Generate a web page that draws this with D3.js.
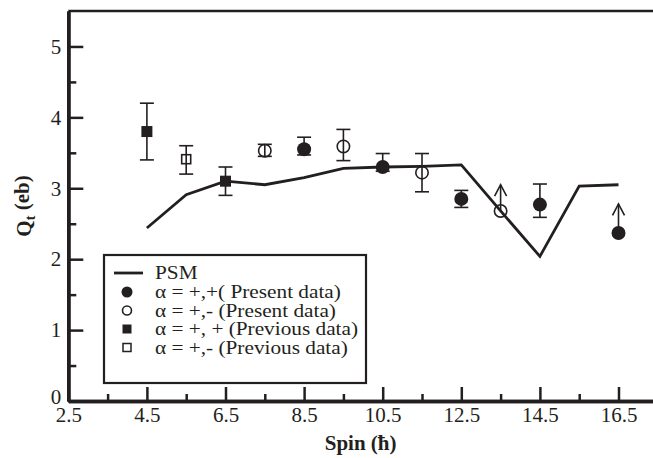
<!DOCTYPE html>
<html>
<head>
<meta charset="utf-8">
<script src="https://cdn.jsdelivr.net/npm/d3@7"></script>
<style>
  body { margin: 0; background: #fff; }
  svg { display: block; font-family: "Liberation Serif", "Times New Roman", serif; }
</style>
</head>
<body>
<svg id="chart"></svg>
<script>
var width = 653;
var height = 458;

// PSM calculation (solid line)
var psmSpin = [4.5, 5.5, 6.5, 7.5, 8.5, 9.5, 10.5, 11.5, 12.5, 13.5, 14.5, 15.5, 16.5];
var psmQ    = [2.44, 2.91, 3.10, 3.05, 3.15, 3.28, 3.30, 3.31, 3.33, 2.68, 2.04, 3.03, 3.05];

// alpha = +,+ present data (filled circles)
var presPlusSpin = [8.5, 10.5, 12.5, 14.5, 16.5];
var presPlusQ    = [3.55, 3.30, 2.85, 2.77, 2.37];
var presPlusLo   = [3.47, 3.24, 2.73, 2.59, null];
var presPlusHi   = [3.72, 3.49, 2.97, 3.06, null];
var presPlusArrow = [null, null, null, null, 2.78];

// alpha = +,- present data (open circles)
var presMinusSpin = [7.5, 9.5, 11.5, 13.5];
var presMinusQ    = [3.53, 3.59, 3.22, 2.68];
var presMinusLo   = [3.45, 3.39, 2.95, null];
var presMinusHi   = [3.62, 3.83, 3.49, null];
var presMinusArrow = [null, null, null, 3.05];

// alpha = +,+ previous data (filled squares)
var prevPlusSpin = [4.5, 6.5];
var prevPlusQ    = [3.80, 3.10];
var prevPlusLo   = [3.40, 2.90];
var prevPlusHi   = [4.20, 3.30];

// alpha = +,- previous data (open squares)
var prevMinusSpin = [5.5];
var prevMinusQ    = [3.41];
var prevMinusLo   = [3.20];
var prevMinusHi   = [3.60];

var xMajor = [2.5, 4.5, 6.5, 8.5, 10.5, 12.5, 14.5, 16.5];
var xMinor = [3.5, 5.5, 7.5, 9.5, 11.5, 13.5, 15.5];
var yMajor = [0, 1, 2, 3, 4, 5];
var yMinor = [0.5, 1.5, 2.5, 3.5, 4.5];

var legendLabels = [
  "PSM",
  "\u03b1 = +,+( Present data)",
  "\u03b1 = +,- (Present data)",
  "\u03b1 = +, + (Previous data)",
  "\u03b1 = +,- (Previous data)"
];

function rows(spin, q, lo, hi, arrow) {
  return spin.map(function(s, i) {
    return { spin: s, q: q[i],
             lo: lo ? lo[i] : null, hi: hi ? hi[i] : null,
             arrow: arrow ? arrow[i] : null };
  });
}

var presPlus = rows(presPlusSpin, presPlusQ, presPlusLo, presPlusHi, presPlusArrow);
var presMinus = rows(presMinusSpin, presMinusQ, presMinusLo, presMinusHi, presMinusArrow);
var prevPlus = rows(prevPlusSpin, prevPlusQ, prevPlusLo, prevPlusHi, null);
var prevMinus = rows(prevMinusSpin, prevMinusQ, prevMinusLo, prevMinusHi, null);

var plotLeft = 68.3, plotBottom = 401, plotTop = 11;
var ink = "#231f20";

var xScale = d3.scaleLinear().domain([2.5, 17.5]).range([plotLeft, plotLeft + 15 * 39.3]);
var yScale = d3.scaleLinear().domain([0, 5.5]).range([plotBottom, plotTop]);

var svg = d3.select("#chart")
    .attr("width", width)
    .attr("height", height);

// top frame line
svg.append("line")
    .attr("x1", plotLeft).attr("x2", width)
    .attr("y1", plotTop).attr("y2", plotTop)
    .attr("stroke", ink)
    .attr("stroke-width", 2.5);

// axes (ticks pointing inward)
var xAxis = d3.axisBottom(xScale).tickValues(xMajor)
    .tickFormat(d3.format(".1f"))
    .tickSizeInner(-14).tickSizeOuter(0).tickPadding(6);
var xAxisMinor = d3.axisBottom(xScale).tickValues(xMinor)
    .tickFormat("").tickSizeInner(-7).tickSizeOuter(0);
var yAxis = d3.axisLeft(yScale).tickValues(yMajor)
    .tickFormat(d3.format("d"))
    .tickSizeInner(-15).tickSizeOuter(0).tickPadding(7);
var yAxisMinor = d3.axisLeft(yScale).tickValues(yMinor)
    .tickFormat("").tickSizeInner(-8).tickSizeOuter(0);

function styleAxis(g) {
  g.selectAll("path").attr("stroke", ink).attr("stroke-width", 3.5);
  g.selectAll("line").attr("stroke", ink).attr("stroke-width", 2.5);
  g.selectAll("text").attr("fill", ink).style("font-size", "21px")
      .style("font-family", "'Liberation Serif', serif");
}

svg.append("g").attr("transform", "translate(0," + plotBottom + ")").call(xAxisMinor).call(styleAxis);
svg.append("g").attr("transform", "translate(" + plotLeft + ",0)").call(yAxisMinor).call(styleAxis);
svg.append("g").attr("transform", "translate(0," + plotBottom + ")").call(xAxis).call(styleAxis);
svg.append("g").attr("transform", "translate(" + plotLeft + ",0)").call(yAxis).call(styleAxis)
  .selectAll(".tick text")
    .filter(function(d) { return d === 0; })
    .attr("dy", "0.1em"); // "0" sits a little above the corner

// PSM line
var line = d3.line().x(function(d) { return xScale(d[0]); }).y(function(d) { return yScale(d[1]); });
svg.append("path")
    .datum(d3.zip(psmSpin, psmQ))
    .attr("d", line)
    .attr("fill", "none")
    .attr("stroke", ink)
    .attr("stroke-width", 2.8)
    .attr("stroke-linejoin", "miter");

// error bars
function errorBars(data) {
  var g = svg.append("g").attr("stroke", ink).attr("stroke-width", 1.6);
  var withErr = data.filter(function(d) { return d.lo !== null; });
  g.selectAll("line.v").data(withErr).enter().append("line")
      .attr("x1", function(d) { return xScale(d.spin); })
      .attr("x2", function(d) { return xScale(d.spin); })
      .attr("y1", function(d) { return yScale(d.lo); })
      .attr("y2", function(d) { return yScale(d.hi); });
  ["lo", "hi"].forEach(function(k) {
    g.selectAll("line.c" + k).data(withErr).enter().append("line")
        .attr("x1", function(d) { return xScale(d.spin) - 7; })
        .attr("x2", function(d) { return xScale(d.spin) + 7; })
        .attr("y1", function(d) { return yScale(d[k]); })
        .attr("y2", function(d) { return yScale(d[k]); });
  });
  // lower limits drawn as arrows
  var withArrow = data.filter(function(d) { return d.arrow !== null; });
  g.selectAll("line.a").data(withArrow).enter().append("line")
      .attr("x1", function(d) { return xScale(d.spin); })
      .attr("x2", function(d) { return xScale(d.spin); })
      .attr("y1", function(d) { return yScale(d.q); })
      .attr("y2", function(d) { return yScale(d.arrow); });
  g.selectAll("path.a").data(withArrow).enter().append("path")
      .attr("fill", "none")
      .attr("d", function(d) {
        var x = xScale(d.spin), y = yScale(d.arrow);
        return "M" + (x - 6) + "," + (y + 11.5) + "L" + x + "," + y + "L" + (x + 6) + "," + (y + 11.5);
      });
}
errorBars(presPlus);
errorBars(presMinus);
errorBars(prevPlus);
errorBars(prevMinus);

// markers
svg.selectAll("circle.filled").data(presPlus).enter().append("circle")
    .attr("cx", function(d) { return xScale(d.spin); })
    .attr("cy", function(d) { return yScale(d.q); })
    .attr("r", 7)
    .attr("fill", ink);

svg.selectAll("circle.open").data(presMinus).enter().append("circle")
    .attr("cx", function(d) { return xScale(d.spin); })
    .attr("cy", function(d) { return yScale(d.q); })
    .attr("r", 6.2)
    .attr("fill", "none")
    .attr("stroke", ink)
    .attr("stroke-width", 1.6);

svg.selectAll("rect.filled").data(prevPlus).enter().append("rect")
    .attr("x", function(d) { return xScale(d.spin) - 5.5; })
    .attr("y", function(d) { return yScale(d.q) - 5.5; })
    .attr("width", 11).attr("height", 11)
    .attr("fill", ink);

svg.selectAll("rect.open").data(prevMinus).enter().append("rect")
    .attr("x", function(d) { return xScale(d.spin) - 4.5; })
    .attr("y", function(d) { return yScale(d.q) - 4.5; })
    .attr("width", 9).attr("height", 9)
    .attr("fill", "none")
    .attr("stroke", ink)
    .attr("stroke-width", 1.6);

// legend
var legend = svg.append("g");
legend.append("rect")
    .attr("x", 104).attr("y", 255)
    .attr("width", 262).attr("height", 128)
    .attr("fill", "#fff")
    .attr("stroke", ink)
    .attr("stroke-width", 2.2);

var rowY = [273, 292, 310.5, 329, 347.5];
var symX = 127;
legend.append("line")
    .attr("x1", 114).attr("x2", 143)
    .attr("y1", rowY[0]).attr("y2", rowY[0])
    .attr("stroke", ink).attr("stroke-width", 2.8);
legend.append("circle").attr("cx", symX).attr("cy", rowY[1]).attr("r", 5.5).attr("fill", ink);
legend.append("circle").attr("cx", symX).attr("cy", rowY[2]).attr("r", 4.5)
    .attr("fill", "none").attr("stroke", ink).attr("stroke-width", 1.6);
legend.append("rect").attr("x", symX - 4.5).attr("y", rowY[3] - 4.5).attr("width", 9).attr("height", 9)
    .attr("fill", ink);
legend.append("rect").attr("x", symX - 4).attr("y", rowY[4] - 4).attr("width", 8).attr("height", 8)
    .attr("fill", "none").attr("stroke", ink).attr("stroke-width", 1.5);

// legend text: slightly widened glyphs, as in the original figure
legend.selectAll("text").data(legendLabels).enter().append("text")
    .attr("transform", function(d, i) { return "translate(155," + rowY[i] + ") scale(1.12,1)"; })
    .attr("dy", "0.33em")
    .attr("fill", ink)
    .style("font-size", "19px")
    .text(function(d) { return d; });

// axis titles
svg.append("text")
    .attr("x", (plotLeft + width) / 2)
    .attr("y", 450)
    .style("text-anchor", "middle")
    .style("font-weight", "bold")
    .style("font-size", "21px")
    .attr("fill", ink)
    .text("Spin (\u0127)");

var yTitle = svg.append("text")
    .attr("transform", "translate(31," + (plotBottom + plotTop) / 2 + ") rotate(-90)")
    .style("text-anchor", "middle")
    .style("font-weight", "bold")
    .style("font-size", "21px")
    .attr("fill", ink);
yTitle.append("tspan").text("Q");
yTitle.append("tspan").attr("dy", "0.25em").style("font-size", "14px").text("t");
yTitle.append("tspan").attr("dy", "-0.25em").text(" (eb)");
</script>
</body>
</html>
